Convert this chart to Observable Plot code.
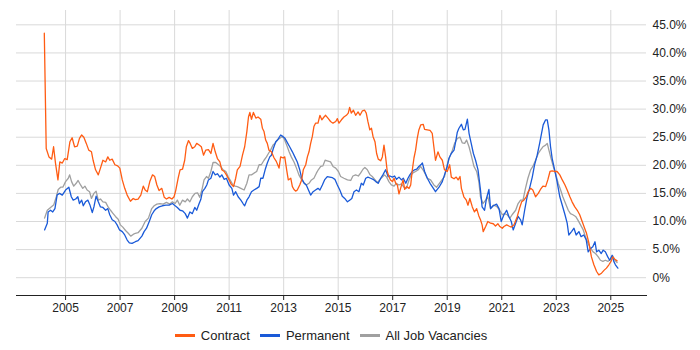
<!DOCTYPE html>
<html>
<head>
<meta charset="utf-8">
<script src="https://cdn.jsdelivr.net/npm/d3@7"></script>
<script src="https://cdn.jsdelivr.net/npm/@observablehq/plot@0.6"></script>
<style>
  html, body { margin: 0; padding: 0; background: #fff; }
  body { width: 700px; height: 350px; overflow: hidden; font-family: Arial, "Liberation Sans", sans-serif; }
  #legend { display: flex; justify-content: center; align-items: center; height: 30px; padding: 0 54px 0 16px; font-size: 13px; color: #222; }
  .item { display: flex; align-items: center; margin: 0 5px; }
  .sw { width: 20px; height: 3px; margin-right: 6px; }
</style>
</head>
<body>
<div id="chart"></div>
<div id="legend"></div>
<script>
const seriesNames = ["Contract", "Permanent", "All Job Vacancies"];
const seriesColors = ["#ff5c13", "#1a5ad8", "#a0a0a0"];
const yTicks = [0, 5, 10, 15, 20, 25, 30, 35, 40, 45];
const xTicks = [2005, 2007, 2009, 2011, 2013, 2015, 2017, 2019, 2021, 2023, 2025];

const contractYears = [2004.22,2004.29,2004.39,2004.49,2004.56,2004.63,2004.72,2004.79,2004.88,2004.97,2005.06,2005.16,2005.24,2005.33,2005.43,2005.51,2005.59,2005.67,2005.76,2005.85,2005.95,2006.01,2006.10,2006.20,2006.28,2006.37,2006.47,2006.55,2006.62,2006.71,2006.81,2006.91,2006.99,2007.08,2007.17,2007.26,2007.38,2007.48,2007.56,2007.66,2007.76,2007.85,2007.92,2008.00,2008.09,2008.19,2008.27,2008.35,2008.43,2008.53,2008.62,2008.70,2008.80,2008.90,2008.98,2009.04,2009.13,2009.20,2009.29,2009.37,2009.43,2009.51,2009.57,2009.65,2009.74,2009.81,2009.90,2009.98,2010.06,2010.14,2010.24,2010.33,2010.41,2010.49,2010.57,2010.66,2010.73,2010.82,2010.90,2011.00,2011.08,2011.16,2011.24,2011.30,2011.40,2011.49,2011.57,2011.65,2011.71,2011.76,2011.82,2011.89,2011.98,2012.06,2012.16,2012.22,2012.28,2012.34,2012.40,2012.46,2012.55,2012.65,2012.73,2012.83,2012.89,2012.98,2013.04,2013.11,2013.17,2013.26,2013.32,2013.38,2013.44,2013.50,2013.59,2013.66,2013.72,2013.81,2013.87,2013.93,2013.99,2014.05,2014.11,2014.17,2014.26,2014.33,2014.40,2014.48,2014.54,2014.64,2014.72,2014.81,2014.91,2014.97,2015.03,2015.12,2015.21,2015.30,2015.37,2015.42,2015.48,2015.56,2015.64,2015.73,2015.80,2015.89,2015.97,2016.03,2016.09,2016.16,2016.22,2016.28,2016.35,2016.41,2016.47,2016.56,2016.62,2016.68,2016.74,2016.80,2016.86,2016.92,2016.99,2017.05,2017.11,2017.17,2017.23,2017.29,2017.38,2017.44,2017.51,2017.60,2017.66,2017.72,2017.78,2017.84,2017.90,2017.96,2018.03,2018.12,2018.17,2018.27,2018.37,2018.45,2018.51,2018.57,2018.66,2018.73,2018.82,2018.90,2019.00,2019.09,2019.15,2019.25,2019.33,2019.40,2019.47,2019.52,2019.61,2019.70,2019.76,2019.83,2019.92,2020.00,2020.08,2020.16,2020.22,2020.28,2020.32,2020.41,2020.49,2020.59,2020.69,2020.77,2020.86,2020.93,2021.02,2021.08,2021.18,2021.26,2021.35,2021.45,2021.57,2021.65,2021.73,2021.81,2021.90,2021.97,2022.06,2022.14,2022.24,2022.34,2022.42,2022.51,2022.61,2022.69,2022.77,2022.85,2022.94,2023.03,2023.13,2023.22,2023.32,2023.40,2023.50,2023.58,2023.68,2023.77,2023.86,2023.95,2024.04,2024.11,2024.20,2024.29,2024.38,2024.48,2024.56,2024.66,2024.75,2024.84,2024.93,2025.01,2025.07,2025.15,2025.23];
const contractValues = [43.5,23.0,21.5,21.1,23.3,20.4,17.4,20.6,20.4,21.2,21.0,24.2,24.9,23.3,23.4,24.8,25.4,25.0,23.9,22.7,22.4,20.9,19.2,18.3,19.5,20.9,20.6,21.5,20.9,21.1,20.1,19.9,19.5,17.4,15.9,14.7,13.6,14.1,13.9,14.0,14.7,16.3,15.6,15.3,17.1,18.3,18.0,16.5,15.5,15.9,14.3,14.0,14.3,14.0,14.4,15.5,17.7,19.2,19.3,20.9,23.3,24.4,23.9,23.0,23.3,23.9,23.6,23.3,21.8,22.7,22.8,22.1,23.9,22.4,21.2,20.6,19.2,18.9,18.3,17.4,16.6,16.2,17.7,19.2,19.8,21.8,23.3,26.0,28.6,29.4,28.2,29.4,28.4,28.6,28.2,26.6,26.0,24.5,23.9,22.7,22.4,21.3,20.7,19.5,21.5,21.3,21.5,19.2,17.4,17.7,16.2,15.7,15.4,15.6,16.5,17.4,19.2,20.1,21.5,22.4,23.9,25.1,26.9,27.5,27.5,28.9,28.1,28.6,28.9,28.3,27.8,27.5,27.8,28.3,27.5,28.1,28.6,28.9,29.3,30.3,29.3,29.8,28.9,29.5,28.9,29.7,29.8,29.3,27.8,26.3,26.6,25.1,24.2,22.1,21.1,20.8,21.5,23.6,21.5,18.9,18.0,17.4,17.1,17.7,16.8,16.5,14.9,15.9,17.4,15.7,16.2,15.9,16.5,19.2,21.3,22.7,24.8,26.3,27.2,27.3,26.4,26.3,26.2,25.7,23.3,20.9,22.4,21.5,20.9,19.2,18.9,20.1,17.9,17.6,17.9,17.4,18.0,15.9,14.4,13.8,12.9,14.1,12.6,11.7,12.3,11.0,10.3,9.4,8.2,9.1,10.0,9.7,9.6,9.2,9.6,9.1,8.8,9.1,9.4,9.2,9.0,9.4,10.9,12.3,13.5,13.8,14.4,15.3,15.9,15.6,14.4,15.0,15.7,16.3,16.2,17.4,18.9,19.0,18.9,18.9,18.3,17.4,16.5,15.6,14.4,13.5,12.6,12.0,11.2,10.0,8.8,7.9,6.1,3.7,2.3,1.1,0.5,0.8,1.3,1.7,2.3,2.9,3.7,3.3,3.0];

const permanentYears = [2004.23,2004.33,2004.36,2004.45,2004.53,2004.61,2004.69,2004.78,2004.88,2005.00,2005.12,2005.21,2005.28,2005.37,2005.45,2005.51,2005.59,2005.65,2005.73,2005.82,2005.89,2005.98,2006.04,2006.12,2006.20,2006.28,2006.37,2006.47,2006.55,2006.62,2006.71,2006.81,2006.89,2006.98,2007.08,2007.17,2007.26,2007.34,2007.44,2007.56,2007.66,2007.80,2007.88,2007.97,2008.07,2008.16,2008.25,2008.33,2008.43,2008.55,2008.68,2008.80,2008.92,2009.02,2009.10,2009.20,2009.29,2009.39,2009.47,2009.56,2009.65,2009.74,2009.81,2009.90,2009.96,2010.02,2010.11,2010.18,2010.24,2010.33,2010.41,2010.49,2010.57,2010.66,2010.73,2010.82,2010.90,2011.00,2011.10,2011.16,2011.24,2011.33,2011.43,2011.51,2011.57,2011.65,2011.73,2011.82,2011.91,2012.01,2012.10,2012.16,2012.24,2012.32,2012.40,2012.49,2012.55,2012.62,2012.71,2012.79,2012.89,2012.98,2013.05,2013.14,2013.22,2013.32,2013.41,2013.50,2013.59,2013.66,2013.75,2013.83,2013.91,2013.99,2014.08,2014.17,2014.26,2014.33,2014.42,2014.50,2014.60,2014.69,2014.79,2014.88,2014.97,2015.06,2015.15,2015.24,2015.34,2015.42,2015.50,2015.58,2015.67,2015.76,2015.85,2015.92,2016.01,2016.09,2016.19,2016.28,2016.38,2016.47,2016.56,2016.64,2016.74,2016.83,2016.90,2016.99,2017.07,2017.14,2017.23,2017.32,2017.39,2017.48,2017.56,2017.63,2017.72,2017.80,2017.88,2017.96,2018.05,2018.09,2018.17,2018.27,2018.37,2018.45,2018.57,2018.70,2018.82,2018.90,2019.00,2019.06,2019.15,2019.25,2019.31,2019.37,2019.43,2019.52,2019.59,2019.65,2019.74,2019.80,2019.88,2019.96,2020.04,2020.13,2020.22,2020.28,2020.37,2020.44,2020.53,2020.59,2020.69,2020.81,2020.90,2020.98,2021.08,2021.18,2021.26,2021.35,2021.42,2021.51,2021.60,2021.69,2021.75,2021.84,2021.93,2022.02,2022.12,2022.20,2022.30,2022.39,2022.46,2022.52,2022.61,2022.67,2022.73,2022.79,2022.85,2022.94,2023.03,2023.13,2023.22,2023.32,2023.40,2023.46,2023.56,2023.65,2023.73,2023.83,2023.91,2024.01,2024.10,2024.17,2024.26,2024.34,2024.42,2024.48,2024.56,2024.65,2024.72,2024.80,2024.89,2024.96,2025.05,2025.11,2025.17,2025.26];
const permanentValues = [8.5,9.7,11.7,12.0,11.7,12.3,14.7,15.0,14.7,15.6,16.1,14.4,13.8,14.0,14.4,13.2,13.8,12.8,13.5,13.8,13.0,11.6,12.6,14.5,13.5,12.6,12.5,12.0,12.3,11.2,10.3,10.0,9.4,8.5,8.2,7.6,6.7,6.2,6.1,6.4,6.6,7.4,8.2,8.8,10.0,11.2,11.9,12.3,12.6,12.8,12.9,12.9,13.2,12.8,12.5,12.0,11.9,11.4,10.6,11.7,11.4,12.5,12.0,13.2,13.9,15.3,15.9,16.5,17.4,17.7,18.9,18.3,18.5,17.9,18.3,17.5,17.7,16.5,15.9,14.7,15.3,14.4,13.8,13.2,12.8,13.8,14.4,15.3,15.6,15.9,16.2,17.7,17.7,19.2,20.4,21.5,21.8,23.0,24.2,24.6,25.4,25.1,24.8,24.0,23.3,22.4,21.5,20.6,19.2,17.7,16.8,16.5,15.6,14.7,15.3,15.6,15.9,15.6,16.5,17.4,18.0,17.9,17.8,17.5,16.5,15.6,14.5,14.1,13.5,13.8,14.1,15.3,15.6,15.3,16.8,16.5,17.7,17.9,17.7,17.5,17.1,16.8,17.7,18.3,19.2,18.0,18.1,17.9,18.1,17.5,17.9,17.4,17.7,16.8,17.7,18.3,18.9,19.2,19.3,19.8,20.2,20.4,18.9,17.7,16.8,16.2,15.3,16.1,17.1,18.3,19.8,21.2,22.1,22.7,24.2,25.9,26.6,27.3,26.3,26.4,28.2,25.7,23.9,22.1,20.9,19.2,15.6,12.6,12.0,14.1,15.7,12.3,12.8,13.1,12.3,10.0,11.2,12.0,10.9,10.0,8.5,9.7,10.9,10.3,9.4,12.0,14.4,15.9,17.9,20.0,21.8,23.9,25.7,27.2,28.1,28.1,26.3,23.3,21.2,19.2,17.1,14.4,12.9,11.2,9.7,7.6,8.2,8.8,7.6,8.2,7.3,7.6,6.7,4.6,5.2,5.5,6.4,4.6,4.9,4.3,4.9,4.6,3.7,3.1,4.0,2.9,2.3,1.7];

const allYears = [2004.23,2004.33,2004.45,2004.57,2004.66,2004.73,2004.82,2004.90,2005.00,2005.10,2005.15,2005.22,2005.30,2005.39,2005.46,2005.55,2005.63,2005.71,2005.79,2005.88,2005.95,2006.04,2006.12,2006.20,2006.28,2006.37,2006.47,2006.56,2006.65,2006.73,2006.83,2006.93,2007.01,2007.10,2007.20,2007.30,2007.39,2007.48,2007.56,2007.66,2007.80,2007.92,2008.04,2008.16,2008.25,2008.35,2008.46,2008.58,2008.70,2008.82,2008.92,2009.02,2009.10,2009.19,2009.29,2009.39,2009.47,2009.56,2009.65,2009.75,2009.84,2009.92,2010.00,2010.08,2010.17,2010.24,2010.33,2010.41,2010.51,2010.61,2010.69,2010.78,2010.88,2010.97,2011.06,2011.14,2011.22,2011.30,2011.43,2011.55,2011.65,2011.73,2011.82,2011.91,2012.01,2012.10,2012.18,2012.28,2012.37,2012.44,2012.52,2012.61,2012.68,2012.77,2012.86,2012.93,2013.01,2013.11,2013.20,2013.28,2013.38,2013.47,2013.56,2013.66,2013.75,2013.83,2013.93,2014.02,2014.11,2014.20,2014.27,2014.36,2014.44,2014.52,2014.60,2014.72,2014.81,2014.91,2015.01,2015.09,2015.21,2015.34,2015.46,2015.54,2015.64,2015.74,2015.82,2015.91,2015.98,2016.07,2016.17,2016.25,2016.34,2016.44,2016.52,2016.62,2016.70,2016.78,2016.86,2016.95,2017.05,2017.13,2017.23,2017.32,2017.41,2017.50,2017.60,2017.68,2017.76,2017.84,2017.94,2018.02,2018.11,2018.18,2018.27,2018.39,2018.51,2018.61,2018.70,2018.82,2018.90,2019.00,2019.09,2019.19,2019.27,2019.37,2019.47,2019.55,2019.64,2019.71,2019.80,2019.88,2019.98,2020.08,2020.16,2020.22,2020.31,2020.41,2020.49,2020.59,2020.69,2020.81,2020.93,2021.02,2021.10,2021.20,2021.30,2021.38,2021.51,2021.60,2021.69,2021.78,2021.87,2021.96,2022.06,2022.14,2022.24,2022.34,2022.42,2022.51,2022.61,2022.67,2022.73,2022.81,2022.89,2022.97,2023.07,2023.16,2023.24,2023.34,2023.44,2023.52,2023.61,2023.71,2023.80,2023.89,2023.99,2024.07,2024.17,2024.26,2024.35,2024.44,2024.54,2024.62,2024.71,2024.80,2024.90,2024.99,2025.07,2025.15,2025.23];
const allValues = [10.6,12.0,12.5,13.0,14.4,15.7,16.1,16.1,17.1,17.7,18.3,17.1,16.3,16.8,17.3,16.5,15.9,16.3,15.6,15.3,14.1,15.0,15.4,13.8,14.0,13.5,13.4,12.6,12.0,11.5,10.9,10.4,9.4,9.0,8.4,7.9,7.4,7.7,7.9,8.0,8.8,10.0,10.6,12.3,12.8,13.1,13.2,13.1,13.4,13.1,13.5,13.2,13.8,12.9,13.8,13.5,14.0,13.5,14.4,15.0,15.1,14.3,15.6,17.4,18.0,17.7,18.9,20.5,20.5,20.1,19.8,19.2,18.9,17.9,17.2,16.5,16.3,16.2,15.9,15.6,16.8,18.3,18.3,18.6,18.9,20.1,20.1,20.9,21.5,22.1,22.7,23.6,23.9,24.5,24.8,25.1,24.8,23.6,22.4,21.5,20.6,19.5,18.3,17.4,16.9,16.5,16.8,17.4,17.7,18.6,19.2,19.8,19.9,20.9,20.8,20.6,19.8,19.5,18.9,18.0,17.7,17.4,17.3,18.1,18.3,18.1,18.6,19.3,19.6,19.2,18.3,18.0,17.5,16.9,17.4,17.9,18.3,17.9,17.1,16.5,16.3,16.8,16.5,16.7,16.1,15.9,17.4,18.3,18.7,18.9,19.2,19.8,19.2,18.6,17.7,17.4,16.5,16.1,16.7,17.5,18.0,20.1,21.5,22.7,23.9,24.8,25.0,24.0,23.9,24.5,23.3,21.8,19.8,18.9,17.1,14.4,13.2,13.8,14.4,12.3,12.9,12.7,12.0,11.2,11.4,11.2,10.6,11.2,12.0,13.2,13.8,13.8,15.9,17.7,19.2,19.8,20.9,22.1,22.7,23.3,23.6,23.9,22.7,21.2,19.8,18.6,16.8,15.6,14.4,13.2,12.0,11.4,11.2,10.9,10.2,9.4,8.5,7.3,6.1,5.2,4.6,4.3,3.7,3.1,2.9,3.1,2.9,3.3,3.9,3.1,2.7];

function rows(name, years, values) {
  return years.map((y, i) => ({series: name, year: y, value: values[i]}));
}
const data = [
  ...rows("All Job Vacancies", allYears, allValues),
  ...rows("Permanent", permanentYears, permanentValues),
  ...rows("Contract", contractYears, contractValues)
];

const chart = Plot.plot({
  width: 700,
  height: 320,
  marginLeft: 16,
  marginRight: 54,
  marginTop: 10,
  marginBottom: 25,
  style: {fontFamily: 'Arial, "Liberation Sans", sans-serif', fontSize: "12px", color: "#222", background: "#fff"},
  x: {domain: [2003.2, 2026.31]},
  y: {domain: [-3.17, 47.55]},
  color: {domain: seriesNames, range: seriesColors},
  marks: [
    Plot.gridY(yTicks, {stroke: "#d9d9d9", strokeOpacity: 1}),
    Plot.gridX(xTicks, {stroke: "#d9d9d9", strokeOpacity: 1}),
    Plot.axisY(yTicks, {anchor: "right", tickSize: 0, tickPadding: 6, textAnchor: "start",
      tickFormat: d => d === 0 ? "0%" : d.toFixed(1) + "%", label: null, fill: "#222"}),
    Plot.axisX(xTicks, {tickSize: 5, tickPadding: 3, tickFormat: d => String(d), label: null, fill: "#222", stroke: "#222"}),
    Plot.frame({anchor: "bottom", stroke: "#222"}),
    Plot.line(data, {x: "year", y: "value", z: "series", stroke: "series", strokeWidth: 1.3})
  ]
});
document.getElementById("chart").appendChild(chart);

const legend = document.getElementById("legend");
seriesNames.forEach((name, i) => {
  const item = document.createElement("div");
  item.className = "item";
  const sw = document.createElement("span");
  sw.className = "sw";
  sw.style.background = seriesColors[i];
  const label = document.createElement("span");
  label.textContent = name;
  item.appendChild(sw);
  item.appendChild(label);
  legend.appendChild(item);
});
</script>
</body>
</html>
